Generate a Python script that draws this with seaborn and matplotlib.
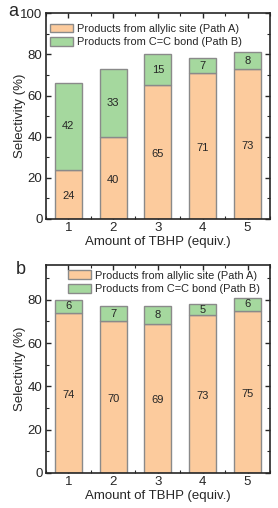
import numpy as np
import pandas as pd
import matplotlib
matplotlib.use('Agg')
import matplotlib.pyplot as plt
from matplotlib.ticker import MultipleLocator, AutoMinorLocator
from matplotlib.patches import Patch
import seaborn as sns

# data
tbhp = ['1', '2', '3', '4', '5']
path_a_top = [24, 40, 65, 71, 73]
path_b_top = [42, 33, 15, 7, 8]
path_a_bot = [74, 70, 69, 73, 75]
path_b_bot = [6, 7, 8, 5, 6]

ORANGE = '#FCCB9D'
GREEN = '#A5D89E'
EDGE = '#8a8a8a'

sns.set_style('ticks')
plt.rcParams['font.family'] = ['Liberation Sans', 'DejaVu Sans']
plt.rcParams['axes.linewidth'] = 1.2


def stacked_panel(ax, a_vals, b_vals, ymax, legend_anchor):
    df = pd.DataFrame({'TBHP': tbhp, 'A': a_vals, 'B': b_vals})
    sns.barplot(data=df, x='TBHP', y='A', color=ORANGE, width=0.6,
                edgecolor=EDGE, linewidth=1.0, saturation=1, ax=ax)
    sns.barplot(data=df, x='TBHP', y='B', color=GREEN, width=0.6,
                edgecolor=EDGE, linewidth=1.0, saturation=1,
                bottom=df['A'].values, ax=ax)

    for i, (a, b) in enumerate(zip(a_vals, b_vals)):
        ax.text(i, a / 2 - 1, str(a), ha='center', va='center', fontsize=8)
        ax.text(i, a + b / 2, str(b), ha='center', va='center', fontsize=8)

    ax.set_xlim(-0.5, 4.5)
    ax.set_ylim(0, ymax)
    ax.yaxis.set_major_locator(MultipleLocator(20))
    ax.yaxis.set_minor_locator(AutoMinorLocator(2))
    ax.xaxis.set_minor_locator(MultipleLocator(0.5))
    ax.tick_params(which='both', direction='in', top=True, right=True, labelsize=9.5, pad=2.5)
    ax.tick_params(which='major', length=3.5, width=1.0)
    ax.tick_params(which='minor', length=2, width=0.8)
    ax.set_xlabel('Amount of TBHP (equiv.)', fontsize=9.5, labelpad=1)
    ax.set_ylabel('Selectivity (%)', fontsize=9.5)
    ax.yaxis.set_label_coords(-0.09, 0.5)

    handles = [Patch(facecolor=ORANGE, edgecolor=EDGE, label='Products from allylic site (Path A)'),
               Patch(facecolor=GREEN, edgecolor=EDGE, label='Products from C=C bond (Path B)')]
    ax.legend(handles=handles, loc='upper left', bbox_to_anchor=legend_anchor,
              frameon=False, fontsize=7.9, handlelength=2.1, handleheight=0.85,
              handletextpad=0.35, labelspacing=0.3, borderaxespad=0.0,
              borderpad=0.2)


fig = plt.figure(figsize=(2.78, 5.08), dpi=100)
ax1 = fig.add_axes([0.165, 0.569, 0.806, 0.405])
ax2 = fig.add_axes([0.165, 0.069, 0.806, 0.409])

stacked_panel(ax1, path_a_top, path_b_top, 100, (0.01, 0.96))
stacked_panel(ax2, path_a_bot, path_b_bot, 96, (0.09, 0.985))

fig.text(8 / 278, 1 - 12 / 508, 'a', fontsize=13, ha='left', va='center')
fig.text(16 / 278, 1 - 269 / 508, 'b', fontsize=13, ha='left', va='center')

fig.savefig('out.png', dpi=100)
